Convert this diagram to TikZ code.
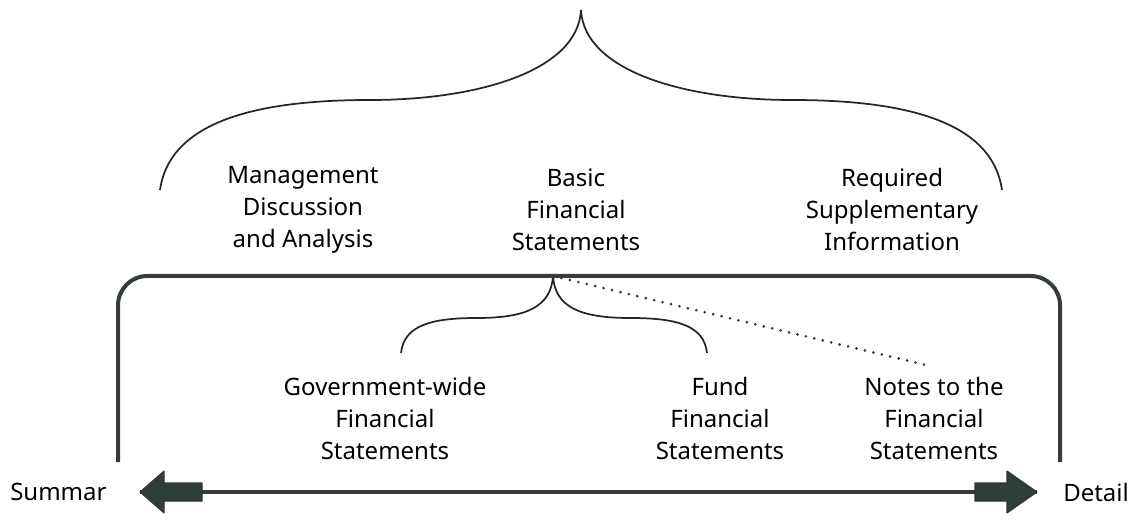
\documentclass[tikz,border=0pt]{standalone}
\usepackage{fontspec}
\setmainfont{Noto Sans}
\definecolor{framegray}{HTML}{353D3A}
\definecolor{arrowgreen}{HTML}{2F3E39}
\begin{document}
\begin{tikzpicture}[x=0.75pt,y=-0.75pt,
  lbl/.style={align=center,font=\fontsize{18}{24}\selectfont,inner sep=0pt},
  brace/.style={line width=1.3pt,black!85},
  frame/.style={line width=3pt,framegray,rounded corners=22pt},
  blockarrow/.style={fill=arrowgreen,draw=black!80,line width=0.8pt,line join=round}]
\useasboundingbox(0,0)rectangle(1132,520);
% texts
\node[lbl](mda)at(303,210){Management\\Discussion\\and Analysis};
\node[lbl](bfs)at(576,210){Basic\\Financial\\Statements};
\node[lbl](rsi)at(892,210){Required\\Supplementary\\Information};
\node[lbl](gw)at(385,418){Government-wide\\Financial\\Statements};
\node[lbl](fund)at(720,418){Fund\\Financial\\Statements};
\node[lbl](notes)at(934,418){Notes to the\\Financial\\Statements};
\node[lbl,anchor=west](summ)at(10,492){Summar};
\node[lbl,anchor=west](det)at(1063,492){Detail};
% braces
\coordinate(toptip)at(581,10);
\coordinate(topl)at(160,190);
\coordinate(topr)at(1002,190);
\draw[brace](topl)..controls(170,120)and(260,100)..(370,100)..controls(480,100)and(578,70)..(toptip);
\draw[brace](topr)..controls(992,120)and(902,100)..(792,100)..controls(682,100)and(584,70)..(toptip);
\coordinate(subtip)at(553,276);
\coordinate(subl)at(401,353);
\coordinate(subr)at(707,353);
\draw[brace](subl)..controls(404,325)and(432,318)..(477,318)..controls(528,318)and(551,306)..(subtip);
\draw[brace](subr)..controls(704,325)and(676,318)..(630,318)..controls(578,318)and(555,306)..(subtip);
\coordinate(dotend)at(930,366);
\draw[line width=2.2pt,black!80,line cap=round,dash pattern=on 0pt off 6.5pt](subtip)--(dotend);
% frame
\coordinate(fbl)at(118,462);
\coordinate(fbr)at(1060,462);
\draw[frame](fbl)|-(subtip)-|(fbr);
% scale arrow
\coordinate(al)at(140,492);
\coordinate(ar)at(1037,492);
\draw[line width=3pt,framegray](al)--(ar);
\draw[blockarrow](al)--++(24,-21)--++(0,12)--++(38,0)--++(0,18)--++(-38,0)--++(0,12)--cycle;
\draw[blockarrow](ar)--++(-30,-21)--++(0,12)--++(-32,0)--++(0,18)--++(32,0)--++(0,12)--cycle;
\end{tikzpicture}
\end{document}
